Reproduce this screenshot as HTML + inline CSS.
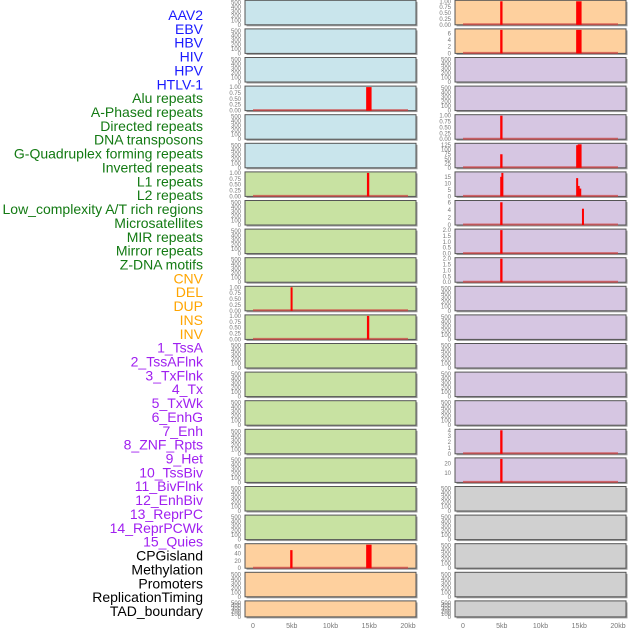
<!DOCTYPE html>
<html><head><meta charset="utf-8">
<style>
html,body{margin:0;padding:0;background:#fff;}
#wrap{position:relative;width:630px;height:630px;overflow:hidden;font-family:"Liberation Sans",sans-serif;}
</style></head>
<body>
<div id="wrap">
<svg id="svg" width="630" height="630" xmlns="http://www.w3.org/2000/svg"></svg>
</div>
<script>
const labels = ["AAV2","EBV","HBV","HIV","HPV","HTLV-1","Alu repeats","A-Phased repeats","Directed repeats","DNA transposons","G-Quadruplex forming repeats","Inverted repeats","L1 repeats","L2 repeats","Low_complexity A/T rich regions","Microsatellites","MIR repeats","Mirror repeats","Z-DNA motifs","CNV","DEL","DUP","INS","INV","1_TssA","2_TssAFlnk","3_TxFlnk","4_Tx","5_TxWk","6_EnhG","7_Enh","8_ZNF_Rpts","9_Het","10_TssBiv","11_BivFlnk","12_EnhBiv","13_ReprPC","14_ReprPCWk","15_Quies","CPGisland","Methylation","Promoters","ReplicationTiming","TAD_boundary"];
const labelGroups = [6,13,5,15,5];
const groupColors = ["#1a1aff","#137a13","#ffa500","#a020f0","#000000"];

const xTicks = [0,5,10,15,20];
const xTickLabels = ["0","5kb","10kb","15kb","20kb"];

const leftMax  = [0,0,0,1,0,0,1,0,0,0,1,1,0,0,0,0,0,0,0,65,0,0];
const rightMax = [1,7,0,0,1,130,18,6.2,2,2,0,0,0,0,0,4,25,0,0,0,0,0];
const leftTicks  = {3:[0,0.25,0.5,0.75,1],6:[0,0.25,0.5,0.75,1],10:[0,0.25,0.5,0.75,1],11:[0,0.25,0.5,0.75,1],19:[0,20,40,60]};
const rightTicks = {0:[0,0.25,0.5,0.75,1],1:[0,2,4,6],4:[0,0.25,0.5,0.75,1],5:[0,25,50,75,100,125],6:[0,5,10,15],7:[0,2,4,6],8:[0,0.5,1,1.5,2],9:[0,0.5,1,1.5,2],15:[0,1,2,3,4],16:[10,20]};
const leftBars = [[3,14.6,15.3,1],[6,14.7,15.0,1],[10,4.85,5.1,1],[11,14.7,15.0,1],[19,4.8,5.1,50],[19,14.6,15.3,65]];
const rightBars = [[0,4.8,5.1,1],[0,14.6,15.3,1],[1,4.8,5.1,7],[1,14.6,15.3,7],[4,4.8,5.1,1],
 [5,4.8,5.1,75],[5,14.6,14.8,125],[5,14.8,15.3,130],
 [6,4.8,4.95,15],[6,4.95,5.1,18],[6,14.6,14.8,14],[6,14.8,15.0,8],[6,15.0,15.2,6],
 [7,4.8,5.1,6],[7,15.35,15.6,4.3],[8,4.8,5.1,2],[9,4.8,5.1,2],[15,4.8,5.1,4],[16,4.8,5.1,25]];

const NS="http://www.w3.org/2000/svg";
const svg=document.getElementById('svg');
function mk(tag,attrs,parent){const e=document.createElementNS(NS,tag);for(const k in attrs)e.setAttribute(k,attrs[k]);(parent||svg).appendChild(e);return e;}

let gi=0, cnt=0;
labels.forEach((t,i)=>{
  while(cnt>=labelGroups[gi]){gi++;cnt=0;}
  cnt++;
  const e=mk('text',{x:203,y:20+i*13.86,'text-anchor':'end','font-size':14,fill:groupColors[gi],'font-family':'"Liberation Sans",sans-serif'});
  e.textContent=t;
  
  
});

const leftBg  = i=> i<=5?"#c9e5ec":(i<=18?"#c8e2a2":"#fed09e");
const rightBg = i=> i<=1?"#fed09e":(i<=16?"#d6c6e2":"#d0d0d0");

function rowTop(k){return 0.3+k*28.6;}
function rowH(k){return k===21?16:24.5;}

function drawColumn(x0,x1,maxArr,ticks,bars,bg,side){
  const xs=kb=>(x0+8)+kb*(x1-x0-16)/20;
  maxArr.forEach((m,k)=>{
    const t=rowTop(k),h=rowH(k),b=t+h;
    const g=mk('g',{});
    
    
    mk('rect',{x:x0+1.5,y:t+1.5,width:x1-x0,height:h,fill:'#9a9a9a'},g);
    mk('rect',{x:x0,y:t,width:x1-x0,height:h,fill:bg(k),stroke:'#555','stroke-width':1},g);
    const ys=v=>b-(m?v/m:0)*(h-1);
    let tk=ticks[k];
    if(!m){tk=[0,100,200,300,400,500];}
    tk.forEach((v,j)=>{
      const yy = m? ys(v) : b-j*(h-2)/5;
      const tx=mk('text',{x:x0-4,y:yy+2,'text-anchor':'end','font-size':6,fill:'#777'},g);
      let s=String(v);
      if(m && m<=1.01) s=v.toFixed(2);
      if(m===2) s=v.toFixed(1);
      tx.textContent=s;
      
      
    });
    if(m){
      const bl=mk('line',{x1:xs(0),x2:xs(20),y1:b-0.5,y2:b-0.5,stroke:'#d04040','stroke-opacity':0.7,'stroke-width':2},g);
      
      
    }
    bars.filter(r=>r[0]===k).forEach(r=>{
      const y=ys(r[3]);
      const rc=mk('rect',{x:xs(r[1]),y:y,width:Math.max(2,xs(r[2])-xs(r[1])),height:b-y,fill:'#ff0000'},g);
      
      
    });
  });
  xTicks.forEach((v,i)=>{
    const tx=mk('text',{x:xs(v),y:628,'text-anchor':'middle','font-size':7,fill:'#777'});
    tx.textContent=xTickLabels[i];
    
    
  });
}
drawColumn(245,416,leftMax,leftTicks,leftBars,leftBg,'left');
drawColumn(455,626,rightMax,rightTicks,rightBars,rightBg,'right');
</script>
</body></html>
